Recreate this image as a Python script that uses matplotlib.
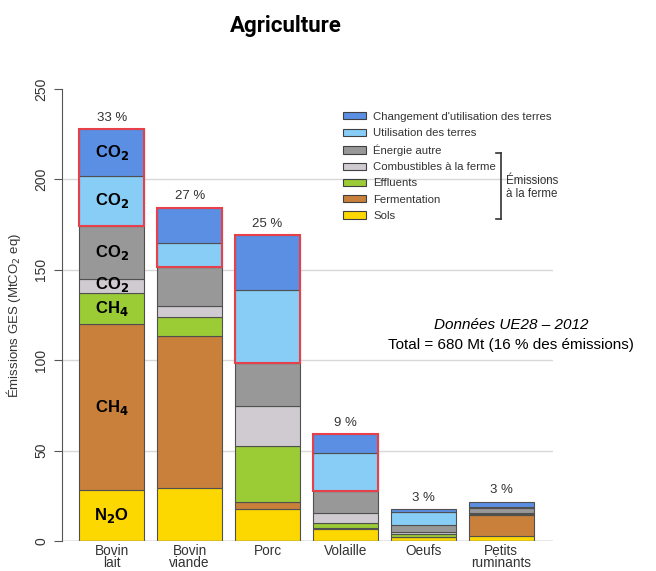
import numpy as np
import matplotlib
matplotlib.use("Agg")
import matplotlib.pyplot as plt
from matplotlib.patches import Patch, Rectangle
from matplotlib.lines import Line2D

plt.rcParams['font.family'] = ['Liberation Sans', 'DejaVu Sans']

# data (MtCO2 eq)
cats = ["Bovin\nlait", "Bovin\nviande", "Porc", "Volaille", "Oeufs", "Petits\nruminants"]
sols = [28.0, 29.2, 17.7, 6.6, 2.2, 2.8]
fermentation = [92.0, 84.0, 4.0, 0.4, 0.2, 11.6]
effluents = [17.0, 10.7, 30.8, 2.8, 1.3, 0.4]
combustibles = [8.0, 6.3, 22.3, 5.9, 1.5, 0.8]
energie = [29.5, 21.5, 23.8, 11.7, 3.6, 2.5]
utilisation = [27.5, 12.9, 40.2, 21.1, 7.1, 0.8]
changement = [25.7, 19.8, 30.4, 10.7, 1.8, 2.8]
pct = ["33 %", "27 %", "25 %", "9 %", "3 %", "3 %"]
boxed = [True, True, True, True, False, False]

names = ["Sols", "Fermentation", "Effluents", "Combustibles à la ferme",
         "Énergie autre", "Utilisation des terres", "Changement d'utilisation des terres"]
series = [sols, fermentation, effluents, combustibles, energie, utilisation, changement]
colors = ["#fdd700", "#c8803a", "#9bcb35", "#cfcbd0", "#989898", "#87cdf6", "#5b8fe3"]
gas = [r"N$_\mathbf{2}$O", r"CH$_\mathbf{4}$", r"CH$_\mathbf{4}$", r"CO$_\mathbf{2}$",
       r"CO$_\mathbf{2}$", r"CO$_\mathbf{2}$", r"CO$_\mathbf{2}$"]

fig = plt.figure(figsize=(6.56, 5.71), dpi=100)
ax = fig.add_axes([0.0945, 0.0525, 0.749, 0.7915])

x = np.arange(len(cats))
w = 0.835
bottom = np.zeros(len(cats))
for vals, col, g in zip(series, colors, gas):
    vals = np.array(vals)
    ax.bar(x, vals, w, bottom=bottom, color=col, edgecolor="#505050", lw=0.8, zorder=2)
    # gas label inside the first bar
    yc = bottom[0] + vals[0] / 2
    if col == colors[3]:
        yc = bottom[0] + vals[0] * 0.6
    ax.text(x[0], yc, g, ha="center", va="center", fontsize=12, fontweight="bold", zorder=4)
    bottom = bottom + vals

# red boxes around land use segments
low = np.array(sols) + np.array(fermentation) + np.array(effluents) + np.array(combustibles) + np.array(energie)
for i in range(len(cats)):
    if boxed[i]:
        ax.add_patch(Rectangle((x[i] - w / 2, low[i]), w, bottom[i] - low[i], fill=False,
                               edgecolor="#e8404a", lw=1.5, zorder=3))
    ax.text(x[i], bottom[i] + 3, pct[i], ha="center", va="bottom", fontsize=9.5, color="#333333")

ax.set_xlim(-0.64, 5.67)
ax.set_ylim(0, 250)
for yy in [50, 100, 150, 200]:
    ax.axhline(yy, color="#d8d8d8", lw=1, zorder=0)
ax.axhline(0, color="#888888", lw=1, zorder=3)
for s in ["top", "right", "bottom"]:
    ax.spines[s].set_visible(False)
ax.spines["left"].set_color("#555555")
ax.set_yticks([0, 50, 100, 150, 200, 250])
ax.set_yticklabels(["0", "50", "100", "150", "200", "250"], rotation=90, va="center", fontsize=10, color="#333333")
ax.tick_params(axis="y", length=6, color="#555555", pad=4)
ax.set_xticks(x)
ax.set_xticklabels(cats, fontsize=9.8, color="#333333", linespacing=0.88)
ax.tick_params(axis="x", length=0, pad=2)
ax.set_ylabel("Émissions GES (MtCO$_2$ eq)", fontsize=9.5, color="#333333", labelpad=8)

fig.text(0.435, 0.955, "Agriculture", ha="center", va="center", fontsize=16, fontweight="bold",
         family=["Roboto", "DejaVu Sans"])

handles = [Patch(facecolor=c, edgecolor="#404040", lw=0.8) for c in colors[::-1]]
fig.legend(handles, names[::-1], loc="upper left", bbox_to_anchor=(0.508, 0.822), frameon=False,
           fontsize=8.2, handlelength=2.0, handleheight=0.6, labelspacing=0.55, handletextpad=0.6,
           labelcolor="#333333")

# bracket for farm emissions
fig.add_artist(Line2D([0.763, 0.763], [0.617, 0.732], color="#333333", lw=1.2))
fig.add_artist(Line2D([0.756, 0.763], [0.732, 0.732], color="#333333", lw=1.2))
fig.add_artist(Line2D([0.756, 0.763], [0.617, 0.617], color="#333333", lw=1.2))
fig.text(0.772, 0.672, "Émissions\nà la ferme", ha="left", va="center", fontsize=8.3,
         color="#333333", linespacing=1.05)

fig.text(0.779, 0.43, "Données UE28 – 2012", ha="center", va="center", fontsize=11, style="italic")
fig.text(0.779, 0.395, "Total = 680 Mt (16 % des émissions)", ha="center", va="center", fontsize=11)

fig.savefig("out.png", dpi=100)
